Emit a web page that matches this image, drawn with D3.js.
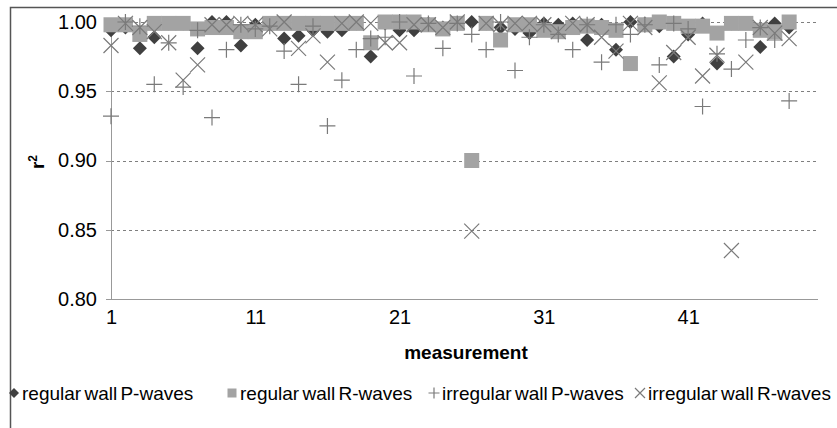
<!DOCTYPE html>
<meta charset="utf-8">
<head>
    <title>r2 per measurement</title>
</head>
<style>
    body {
        margin: 0;
        background-color: #ffffff;
        font-family: "Liberation Sans", Arial, sans-serif;
    }

    .axis path,
    .axis line {
        fill: none;
        stroke: #999999;
        shape-rendering: crispEdges;
    }

    .grid line {
        stroke: #7f7f7f;
        stroke-dasharray: 3, 3;
        shape-rendering: crispEdges;
    }

    .grid path {
        display: none;
    }

    .axis text {
        font-family: "Liberation Sans", Arial, sans-serif;
        font-size: 20px;
        fill: #000;
    }
</style>
<body>
    <svg width="837" height="428"></svg>
</body>
<script src="https://d3js.org/d3.v7.min.js"></script>
<script>
    // measurement index 1..48, the axis runs to 50
    var measurement = d3.range(1, 49);
    var xTicks = [1, 11, 21, 31, 41];
    var yTicks = [0.80, 0.85, 0.90, 0.95, 1.00];
    var seriesNames = ["regular wall P-waves", "regular wall R-waves", "irregular wall P-waves", "irregular wall R-waves"];

    var regularP = [0.994, 0.996, 0.981, 0.989, 0.999, 0.999, 0.981, 1.000, 1.000, 0.983,
        0.998, 0.999, 0.988, 0.990, 0.994, 0.993, 0.994, 0.999, 0.975, 0.999,
        0.994, 0.994, 0.999, 0.996, 0.999, 1.000, 0.999, 0.996, 0.995, 0.992,
        0.999, 0.998, 0.999, 0.987, 0.998, 0.980, 1.000, 0.999, 0.997, 0.975,
        0.991, 0.999, 0.970, 0.999, 0.999, 0.982, 0.999, 0.996];

    var regularR = [0.998, 0.998, 0.991, 0.999, 0.999, 0.999, 0.995, 0.996, 0.996, 0.993,
        0.993, 0.999, 0.999, 0.999, 0.999, 0.999, 0.999, 0.999, 0.985, 1.000,
        1.000, 1.000, 0.998, 0.995, 0.999, 0.900, 0.999, 0.987, 0.998, 0.998,
        0.994, 0.993, 0.996, 0.997, 0.996, 0.994, 0.970, 0.998, 1.000, 0.999,
        0.997, 0.997, 0.992, 0.999, 0.999, 0.994, 0.993, 1.000];

    var irregularP = [0.932, 1.000, 0.997, 0.955, 0.985, 0.953, 0.994, 0.931, 0.980, 0.998,
        0.995, 0.997, 0.979, 0.955, 0.997, 0.925, 0.958, 0.980, 0.988, 0.989,
        1.000, 0.961, 0.999, 0.981, 0.999, 0.991, 0.980, 1.000, 0.965, 0.989,
        0.998, 0.991, 0.980, 0.998, 0.971, 0.998, 0.991, 0.998, 0.969, 0.999,
        0.995, 0.939, 0.977, 0.966, 0.987, 0.996, 0.987, 0.943];

    var irregularR = [0.983, 0.999, 0.996, 0.993, 0.985, 0.958, 0.969, 0.998, 0.998, 0.999,
        0.998, 0.995, 1.000, 0.981, 0.990, 0.971, 0.999, 1.000, 0.999, 0.985,
        0.985, 0.998, 0.998, 0.996, 1.000, 0.849, 0.999, 0.998, 0.999, 0.999,
        0.998, 0.993, 0.999, 0.998, 0.989, 0.979, 0.999, 0.996, 0.956, 0.978,
        0.989, 0.961, 0.976, 0.835, 0.971, 0.996, 0.992, 0.988];

    var svg = d3.select("svg");

    // outer chart frame (only top and left edges show in the picture)
    svg.append("rect")
        .attr("x", 10.5).attr("y", 7.5)
        .attr("width", 900).attr("height", 500)
        .attr("fill", "none")
        .attr("stroke", "#555")
        .attr("stroke-width", 1.5);

    var x = d3.scaleLinear().domain([1, 50]).range([111, 818]);
    var y = d3.scaleLinear().domain([0.80, 1.00]).range([299, 22]);

    // gridlines
    svg.append("g")
        .attr("class", "grid")
        .attr("transform", "translate(111,0)")
        .call(d3.axisLeft(y).tickValues(yTicks.slice(1)).tickSize(-(818 - 111)).tickFormat(""));

    svg.append("g")
        .attr("class", "axis yAxis")
        .attr("transform", "translate(111,0)")
        .call(d3.axisLeft(y).tickValues(yTicks).tickSize(5).tickPadding(9).tickFormat(d3.format(".2f")));

    svg.append("g")
        .attr("class", "axis xAxis")
        .attr("transform", "translate(0,299)")
        .call(d3.axisBottom(x).tickValues(xTicks).tickSize(0).tickPadding(11));

    svg.select(".xAxis path").attr("d", "M111,0.5H818");

    svg.append("text")
        .attr("x", 466).attr("y", 359)
        .attr("text-anchor", "middle")
        .style("font-size", "19px")
        .style("font-weight", "bold")
        .text("measurement");

    var ylab = svg.append("text")
        .attr("transform", "translate(44,162) rotate(-90)")
        .attr("text-anchor", "middle")
        .style("font-size", "19px")
        .style("font-weight", "bold");
    ylab.append("tspan").text("r");
    ylab.append("tspan").attr("dy", -7).style("font-size", "12px").text("2");

    // marker drawing
    function marker(sel, kind, s) {
        if (kind == 0) {
            sel.append("path")
                .attr("d", d3.symbol().type(d3.symbolSquare).size(s * s * 0.5))
                .attr("transform", "rotate(45)")
                .attr("fill", "#404040");
        } else if (kind == 1) {
            sel.append("rect")
                .attr("x", -s / 2).attr("y", -s / 2)
                .attr("width", s).attr("height", s)
                .attr("fill", "#a3a3a3");
        } else if (kind == 2) {
            sel.append("path")
                .attr("d", "M" + (-s / 2) + ",0H" + (s / 2) + "M0," + (-s / 2) + "V" + (s / 2))
                .attr("stroke", "#7a7a7a").attr("stroke-width", 1.2).attr("fill", "none");
        } else {
            var h = s / 2;
            sel.append("path")
                .attr("d", "M" + (-h) + "," + (-h) + "L" + h + "," + h + "M" + (-h) + "," + h + "L" + h + "," + (-h))
                .attr("stroke", "#7a7a7a").attr("stroke-width", 1.2).attr("fill", "none");
        }
    }

    var allSeries = [regularP, regularR, irregularP, irregularR];
    var sizes = [14, 15, 16, 15];

    allSeries.forEach(function (vals, k) {
        var g = svg.append("g").attr("class", "series s" + k);
        g.selectAll("g.pt")
            .data(measurement.map(function (m, i) { return { m: m, v: vals[i] }; }))
            .enter()
            .append("g")
            .attr("class", "pt")
            .attr("transform", d => "translate(" + x(d.m) + "," + y(d.v) + ")")
            .each(function () { marker(d3.select(this), k, sizes[k]); });
    });

    // legend
    var legendX = [14, 232, 434, 640];
    var legend = svg.append("g").attr("class", "legend");
    seriesNames.forEach(function (name, k) {
        var it = legend.append("g").attr("transform", "translate(" + legendX[k] + ",393)");
        marker(it, k, [10, 9, 11, 10][k]);
        it.append("text")
            .attr("x", 8).attr("y", 7)
            .style("font-size", "19px")
            .style("word-spacing", "-2px")
            .text(name);
    });
</script>
